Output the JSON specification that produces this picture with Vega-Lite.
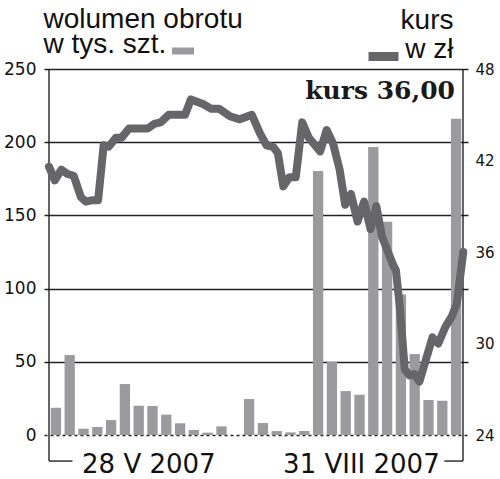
{
  "$schema": "https://vega.github.io/schema/vega-lite/v6.json",
  "width": 424,
  "height": 366,
  "autosize": {"type": "none"},
  "padding": {"left": 44, "top": 69, "right": 32, "bottom": 44},
  "background": "white",
  "title": {
    "text": "kurs 36,00",
    "anchor": "end",
    "frame": "group",
    "orient": "top",
    "offset": 0,
    "baseline": "alphabetic",
    "dx": -13,
    "dy": 118,
    "font": "DejaVu Serif",
    "fontWeight": "bold",
    "fontSize": 25,
    "color": "#1a1a1a"
  },
  "config": {
    "view": {"stroke": null},
    "axis": {"labelFont": "DejaVu Sans", "labelColor": "#111", "titleFont": "Liberation Sans", "titleColor": "#111", "titleFontWeight": "normal"}
  },
  "datasets": {
    "bars": [
      {"t": 0.5, "vol": 18.6}, {"t": 1.5, "vol": 54.6}, {"t": 2.5, "vol": 4.3}, {"t": 3.5, "vol": 5.5},
      {"t": 4.5, "vol": 10.2}, {"t": 5.5, "vol": 34.8}, {"t": 6.5, "vol": 20}, {"t": 7.5, "vol": 19.8},
      {"t": 8.5, "vol": 13.9}, {"t": 9.5, "vol": 8}, {"t": 10.5, "vol": 3.4}, {"t": 11.5, "vol": 1.6},
      {"t": 12.5, "vol": 5.9}, {"t": 13.5, "vol": 0}, {"t": 14.5, "vol": 24.6}, {"t": 15.5, "vol": 8.2},
      {"t": 16.5, "vol": 2.7}, {"t": 17.5, "vol": 1.8}, {"t": 18.5, "vol": 2.7}, {"t": 19.5, "vol": 180.3},
      {"t": 20.5, "vol": 50}, {"t": 21.5, "vol": 30}, {"t": 22.5, "vol": 27.5}, {"t": 23.5, "vol": 196.7},
      {"t": 24.5, "vol": 145.7}, {"t": 25.5, "vol": 96}, {"t": 26.5, "vol": 55.3}, {"t": 27.5, "vol": 23.9},
      {"t": 28.5, "vol": 23.4}, {"t": 29.5, "vol": 216}
    ],
    "kurs": [
      {"t": 0, "kurs": 41.6}, {"t": 0.42, "kurs": 40.7}, {"t": 0.9, "kurs": 41.4}, {"t": 1.37, "kurs": 41.1},
      {"t": 1.79, "kurs": 41.0}, {"t": 2.31, "kurs": 39.6}, {"t": 2.67, "kurs": 39.3}, {"t": 3.13, "kurs": 39.4},
      {"t": 3.56, "kurs": 39.4}, {"t": 3.96, "kurs": 43.0}, {"t": 4.32, "kurs": 42.9}, {"t": 4.86, "kurs": 43.5},
      {"t": 5.26, "kurs": 43.5}, {"t": 5.8, "kurs": 44.1}, {"t": 7.15, "kurs": 44.1}, {"t": 7.62, "kurs": 44.4},
      {"t": 8.09, "kurs": 44.5}, {"t": 8.68, "kurs": 45.0}, {"t": 9.86, "kurs": 45.0}, {"t": 10.28, "kurs": 46.0},
      {"t": 11.16, "kurs": 45.7}, {"t": 11.75, "kurs": 45.4}, {"t": 12.33, "kurs": 45.4}, {"t": 13.11, "kurs": 44.9},
      {"t": 13.82, "kurs": 44.7}, {"t": 14.7, "kurs": 45.0}, {"t": 15.28, "kurs": 43.8}, {"t": 15.76, "kurs": 43.0},
      {"t": 16.23, "kurs": 42.9}, {"t": 16.58, "kurs": 42.5}, {"t": 16.98, "kurs": 40.3}, {"t": 17.41, "kurs": 40.9},
      {"t": 17.88, "kurs": 40.9}, {"t": 18.35, "kurs": 44.5}, {"t": 18.82, "kurs": 43.5}, {"t": 19.65, "kurs": 42.6},
      {"t": 20.12, "kurs": 44.0}, {"t": 20.59, "kurs": 43.1}, {"t": 21.06, "kurs": 41.4}, {"t": 21.46, "kurs": 39.1},
      {"t": 21.88, "kurs": 39.8}, {"t": 22.36, "kurs": 38.0}, {"t": 22.83, "kurs": 39.3}, {"t": 23.3, "kurs": 37.5},
      {"t": 23.72, "kurs": 39.0}, {"t": 24.13, "kurs": 37.0}, {"t": 24.96, "kurs": 35.1}, {"t": 25.14, "kurs": 34.8},
      {"t": 25.42, "kurs": 32.4}, {"t": 25.78, "kurs": 28.3}, {"t": 26.13, "kurs": 27.9}, {"t": 26.48, "kurs": 28.0},
      {"t": 26.84, "kurs": 27.5}, {"t": 27.79, "kurs": 30.4}, {"t": 28.21, "kurs": 30.0}, {"t": 28.73, "kurs": 31.1},
      {"t": 29.2, "kurs": 31.8}, {"t": 29.55, "kurs": 32.6}, {"t": 30.02, "kurs": 36.0}
    ],
    "frame": [
      {"x1": 0, "x2": 0, "y1": -17.8, "y2": 250},
      {"x1": 0, "x2": 1.7, "y1": -17.8, "y2": -17.8},
      {"x1": 30, "x2": 30, "y1": -17.8, "y2": 250},
      {"x1": 28.65, "x2": 30, "y1": -17.8, "y2": -17.8}
    ]
  },
  "layer": [
    {
      "layer": [
        {
          "data": {"name": "bars"},
          "mark": {"type": "bar", "width": 10.3},
          "encoding": {
            "x": {
              "field": "t", "type": "quantitative",
              "scale": {"domain": [0, 30], "nice": false, "zero": false},
              "axis": {
                "values": [7.2, 22.6],
                "labelExpr": "datum.value < 15 ? '28 V 2007' : '31 VIII 2007'",
                "labelFontSize": 26,
                "labelBaseline": "alphabetic",
                "labelPadding": 37,
                "labelFlush": false,
                "labelOverlap": false,
                "domain": false, "ticks": false, "grid": false, "title": null
              }
            },
            "y": {
              "field": "vol", "type": "quantitative",
              "scale": {"domain": [0, 250], "nice": false},
              "axis": {
                "orient": "left",
                "values": [0, 50, 100, 150, 200, 250],
                "labelFontSize": 17,
                "labelPadding": 8,
                "ticks": false,
                "domain": false,
                "grid": true,
                "gridColor": "#222",
                "gridWidth": 1.3,
                "gridDash": {"condition": {"test": "datum.value === 0", "value": [3, 3]}, "value": []},
                "title": ["wolumen obrotu", "w tys. szt."],
                "titleFontSize": 28,
                "titleAngle": 0,
                "titleAlign": "left",
                "titleBaseline": "alphabetic",
                "titleLineHeight": 25,
                "titleX": -1,
                "titleY": -41.5
              }
            },
            "fill": {
              "datum": "wolumen",
              "scale": {"range": ["#9b9b9d"]},
              "legend": {
                "orient": "none", "legendX": 128, "legendY": -29,
                "title": null, "labelExpr": "''", "labelFontSize": 1,
                "symbolType": "M-1,-0.32H1V0.32H-1Z", "symbolSize": 484, "symbolStrokeWidth": 0
              }
            }
          }
        },
        {
          "data": {"name": "frame"},
          "mark": {"type": "rule", "color": "#111", "strokeWidth": 1.3},
          "encoding": {
            "x": {"field": "x1", "type": "quantitative"},
            "x2": {"field": "x2"},
            "y": {"field": "y1", "type": "quantitative"},
            "y2": {"field": "y2"}
          }
        }
      ]
    },
    {
      "data": {"name": "kurs"},
      "mark": {"type": "line", "strokeWidth": 8, "strokeJoin": "round", "strokeCap": "round"},
      "encoding": {
        "x": {"field": "t", "type": "quantitative"},
        "y": {
          "field": "kurs", "type": "quantitative",
          "scale": {"domain": [24, 48], "nice": false, "zero": false},
          "axis": {
            "orient": "right",
            "values": [24, 30, 36, 42, 48],
            "labelFontSize": 15,
            "labelPadding": 7,
            "ticks": false,
            "domain": false,
            "grid": false,
            "title": ["kurs", "w zł"],
            "titleFontSize": 28,
            "titleAngle": 0,
            "titleAlign": "right",
            "titleBaseline": "alphabetic",
            "titleLineHeight": 29,
            "titleX": -15,
            "titleY": -41
          }
        },
        "stroke": {
          "datum": "kurs",
          "scale": {"range": ["#666668"]},
          "legend": {
            "orient": "none", "legendX": 320, "legendY": -32,
            "title": null, "labelExpr": "''", "labelFontSize": 1,
            "symbolType": "stroke", "symbolSize": 900, "symbolStrokeWidth": 9
          }
        }
      }
    }
  ],
  "resolve": {"scale": {"y": "independent"}}
}
